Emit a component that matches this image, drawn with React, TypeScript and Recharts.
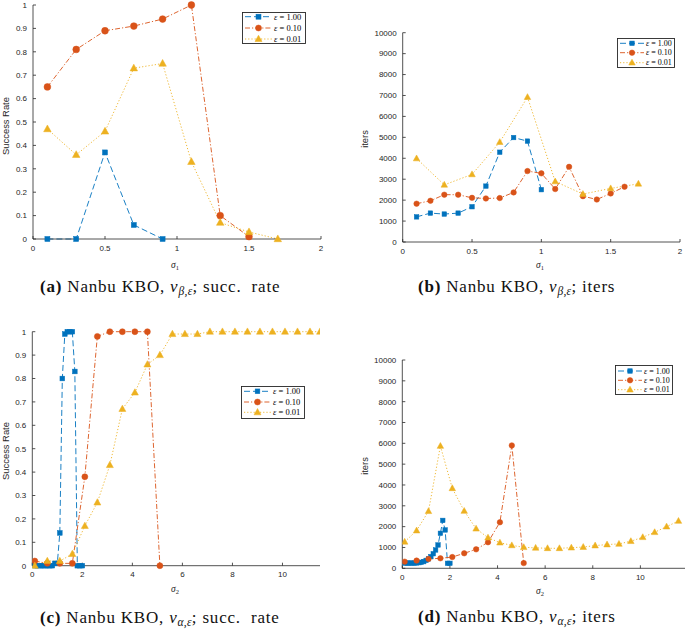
import React from 'react';
import { LineChart, Line, XAxis, YAxis } from 'recharts';

// ---------- series meta ----------
const seriesNames = ['ε = 1.00', 'ε = 0.10', 'ε = 0.01'];
const seriesColors = ['#0072BD', '#D95319', '#EDB120'];
const seriesDashes = ['6 3', '5 2 1.2 2', '1.2 2'];
const seriesMarkers = ['square', 'circle', 'triangle'];

// ---------- tick labels ----------
const rateTicks = [0, 0.1, 0.2, 0.3, 0.4, 0.5, 0.6, 0.7, 0.8, 0.9, 1];
const itersTicks = [0, 1000, 2000, 3000, 4000, 5000, 6000, 7000, 8000, 9000, 10000];
const sigma1Ticks = [0, 0.5, 1, 1.5, 2];
const sigma2Ticks = [0, 2, 4, 6, 8, 10];

// ---------- (a) Nanbu KBO, v_beta; success rate ----------
const aSigmaEps100 = [0.1, 0.3, 0.5, 0.7, 0.9];
const aRateEps100 = [0, 0, 0.37, 0.06, 0];
const aSigmaEps010 = [0.1, 0.3, 0.5, 0.7, 0.9, 1.1, 1.3, 1.5];
const aRateEps010 = [0.65, 0.81, 0.89, 0.91, 0.94, 1.0, 0.1, 0.01];
const aSigmaEps001 = [0.1, 0.3, 0.5, 0.7, 0.9, 1.1, 1.3, 1.5, 1.7];
const aRateEps001 = [0.47, 0.36, 0.46, 0.73, 0.75, 0.33, 0.07, 0.03, 0];

// ---------- (b) Nanbu KBO, v_beta; iters ----------
const bSigmaEps100 = [0.1, 0.2, 0.3, 0.4, 0.5, 0.6, 0.7, 0.8, 0.9, 1.0];
const bItersEps100 = [1200, 1380, 1335, 1380, 1685, 2670, 4290, 4990, 4820, 2500];
const bSigmaEps010 = [0.1, 0.2, 0.3, 0.4, 0.5, 0.6, 0.7, 0.8, 0.9, 1.0, 1.1, 1.2, 1.3, 1.4, 1.5, 1.6];
const bItersEps010 = [1830, 1970, 2260, 2260, 2110, 2080, 2100, 2370, 3390, 3280, 2530, 3590, 2190, 2030, 2320, 2640];
const bSigmaEps001 = [0.1, 0.3, 0.5, 0.7, 0.9, 1.1, 1.3, 1.5, 1.7];
const bItersEps001 = [3990, 2730, 3230, 4770, 6920, 2890, 2290, 2560, 2780];

// ---------- (c) Nanbu KBO, v_alpha; success rate ----------
const cSigmaEps100 = [0.1, 0.2, 0.3, 0.4, 0.5, 0.6, 0.7, 0.8, 0.9, 1.0, 1.1, 1.2, 1.3, 1.4, 1.5, 1.6, 1.7, 1.8, 1.9, 2.0];
const cRateEps100 = [0, 0, 0, 0, 0, 0, 0, 0, 0.01, 0.01, 0.14, 0.8, 0.99, 1, 1, 1, 0.83, 0, 0, 0];
const cSigmaEps010 = [0.1, 0.6, 1.1, 1.6, 2.1, 2.6, 3.1, 3.6, 4.1, 4.6, 5.1];
const cRateEps010 = [0.02, 0.01, 0.01, 0.01, 0.38, 0.98, 1, 1, 1, 1, 0];
const cSigmaEps001 = [0.1, 0.6, 1.1, 1.6, 2.1, 2.6, 3.1, 3.6, 4.1, 4.6, 5.1, 5.6, 6.1, 6.6, 7.1, 7.6, 8.1, 8.6, 9.1, 9.6, 10.1, 10.6, 11.1, 11.5];
const cRateEps001 = [0, 0.02, 0.02, 0.05, 0.17, 0.27, 0.43, 0.67, 0.74, 0.86, 0.9, 0.99, 0.99, 0.99, 1, 1, 1, 1, 1, 1, 1, 1, 1, 1];

// ---------- (d) Nanbu KBO, v_alpha; iters ----------
const dSigmaEps100 = [0.1, 0.2, 0.3, 0.4, 0.5, 0.6, 0.7, 0.8, 0.9, 1.0, 1.1, 1.2, 1.3, 1.4, 1.5, 1.6, 1.7, 1.8, 1.9, 2.0];
const dItersEps100 = [250, 250, 250, 250, 250, 260, 270, 290, 320, 380, 450, 560, 700, 880, 1120, 1680, 2300, 1840, 240, 240];
const dSigmaEps010 = [0.1, 0.6, 1.1, 1.6, 2.1, 2.6, 3.1, 3.6, 4.1, 4.6, 5.1];
const dItersEps010 = [320, 370, 450, 480, 540, 720, 910, 1250, 2210, 5900, 250];
const dSigmaEps001 = [0.1, 0.6, 1.1, 1.6, 2.1, 2.6, 3.1, 3.6, 4.1, 4.6, 5.1, 5.6, 6.1, 6.6, 7.1, 7.6, 8.1, 8.6, 9.1, 9.6, 10.1, 10.6, 11.1, 11.6];
const dItersEps001 = [1270, 1810, 2740, 5870, 3840, 2750, 1900, 1470, 1230, 1100, 1010, 980, 960, 960, 990, 1020, 1090, 1140, 1170, 1300, 1490, 1730, 2000, 2270];

const toRows = (xs: number[], ys: number[]) => xs.map((x, i) => ({ x, y: ys[i] }));

const AXIS = '#262626';
const SANS = '"Liberation Sans", Arial, Helvetica, sans-serif';
const SERIF = '"Liberation Serif", "Times New Roman", serif';

function marker(kind: string, color: string, size: number, cx: number, cy: number, key: any) {
  if (kind === 'square') {
    return <rect key={key} x={cx - size / 2} y={cy - size / 2} width={size} height={size} fill={color} stroke={color} strokeWidth={0.5} />;
  }
  if (kind === 'circle') {
    return <circle key={key} cx={cx} cy={cy} r={size / 2} fill={color} stroke={color} strokeWidth={0.5} />;
  }
  const h = size * 0.9;
  const pts = `${cx},${cy - h * 0.6} ${cx - size / 2},${cy + h * 0.4} ${cx + size / 2},${cy + h * 0.4}`;
  return <polygon key={key} points={pts} fill={color} stroke={color} strokeWidth={0.5} />;
}

type PanelCfg = {
  left: number; top: number; width: number; height: number;
  margin: { top: number; right: number; left: number; bottom: number };
  yWidth: number; xHeight: number;
  xDomain: [number, number]; xTicks: number[];
  yDomain: [number, number]; yTicks: number[];
  series: { x: number; y: number }[][];
  sizes: number[];
  yFmt: (v: number) => string;
  xFmt: (v: number) => string;
};

function Panel({ cfg }: { cfg: PanelCfg }) {
  return (
    <div style={{ position: 'absolute', left: cfg.left, top: cfg.top }}>
      <LineChart width={cfg.width} height={cfg.height} margin={cfg.margin}>
        <XAxis
          dataKey="x" type="number" domain={cfg.xDomain} ticks={cfg.xTicks} interval={0}
          height={cfg.xHeight} tickSize={-3} tickMargin={9}
          axisLine={{ stroke: AXIS, strokeWidth: 0.8 }} tickLine={{ stroke: AXIS, strokeWidth: 0.8 }}
          tick={{ fill: AXIS, fontSize: 8, fontFamily: SANS }} tickFormatter={cfg.xFmt}
          allowDataOverflow
        />
        <YAxis
          type="number" domain={cfg.yDomain} ticks={cfg.yTicks} interval={0}
          width={cfg.yWidth} tickSize={-3} tickMargin={9}
          axisLine={{ stroke: AXIS, strokeWidth: 0.8 }} tickLine={{ stroke: AXIS, strokeWidth: 0.8 }}
          tick={{ fill: AXIS, fontSize: 8, fontFamily: SANS }} tickFormatter={cfg.yFmt}
        />
        {cfg.series.map((rows, si) => (
          <Line
            key={si}
            data={rows}
            dataKey="y"
            name={seriesNames[si]}
            stroke={seriesColors[si]}
            strokeWidth={0.9}
            strokeDasharray={seriesDashes[si]}
            isAnimationActive={false}
            activeDot={false}
            dot={(p: any) => marker(seriesMarkers[si], seriesColors[si], cfg.sizes[si], p.cx, p.cy, `d${si}-${p.index}`)}
          />
        ))}
      </LineChart>
    </div>
  );
}

function LegendBox({ left, top, width, height, rows, lineX, markX, textX, fontSize, sizes }:
  { left: number; top: number; width: number; height: number; rows: number[]; lineX: [number, number]; markX: number; textX: number; fontSize: number; sizes: number[] }) {
  return (
    <svg style={{ position: 'absolute', left, top }} width={width} height={height}>
      <rect x={0.5} y={0.5} width={width - 1} height={height - 1} fill="#fff" stroke={AXIS} strokeWidth={0.9} />
      {seriesNames.map((name, i) => (
        <g key={i}>
          <line x1={lineX[0]} x2={lineX[1]} y1={rows[i]} y2={rows[i]} stroke={seriesColors[i]} strokeWidth={0.9} strokeDasharray={seriesDashes[i]} />
          {marker(seriesMarkers[i], seriesColors[i], sizes[i], markX, rows[i], 'm' + i)}
          <text x={textX} y={rows[i]} dy="0.33em" fontSize={fontSize} fontFamily={SERIF} fill="#000">
            <tspan fontStyle="italic">ε</tspan>
            {name.slice(1)}
          </text>
        </g>
      ))}
    </svg>
  );
}

function YTitle({ x, y, text }: { x: number; y: number; text: string }) {
  return (
    <div style={{ position: 'absolute', left: x, top: y, transform: 'translate(-50%, -50%) rotate(-90deg)', fontFamily: SANS, fontSize: 9.4, color: AXIS, whiteSpace: 'nowrap', lineHeight: 1 }}>
      {text}
    </div>
  );
}

function XTitle({ x, y, sub }: { x: number; y: number; sub: string }) {
  return (
    <div style={{ position: 'absolute', left: x, top: y, transform: 'translate(-50%, -50%)', fontFamily: SERIF, fontSize: 9.5, color: AXIS, whiteSpace: 'nowrap', lineHeight: 1 }}>
      <span style={{ fontStyle: 'italic' }}>σ</span>
      <span style={{ fontSize: 6.5, verticalAlign: '-2px' }}>{sub}</span>
    </div>
  );
}

function Caption({ x, y, label, greek, tail }: { x: number; y: number; label: string; greek: string; tail: string }) {
  return (
    <div style={{ position: 'absolute', left: x, top: y, transform: 'translateY(-50%)', fontFamily: SERIF, fontSize: 17, color: '#111', whiteSpace: 'nowrap', lineHeight: 1, letterSpacing: 0.8 }}>
      <b>({label})</b>{'\u00a0'}Nanbu KBO, <i>v</i>
      <span style={{ fontSize: 11.5, fontStyle: 'italic', verticalAlign: '-3px', letterSpacing: 0.3 }}>{greek},ε</span>; {tail}
    </div>
  );
}

const fmtRate = (v: number) => String(Number(v.toFixed(1)));
const fmtPlain = (v: number) => String(v);

const panels: PanelCfg[] = [
  {
    left: 0, top: 0, width: 340, height: 270,
    margin: { top: 5, right: 19, left: 0, bottom: 0 }, yWidth: 33, xHeight: 31,
    xDomain: [0, 2], xTicks: sigma1Ticks, yDomain: [0, 1], yTicks: rateTicks,
    series: [toRows(aSigmaEps100, aRateEps100), toRows(aSigmaEps010, aRateEps010), toRows(aSigmaEps001, aRateEps001)],
    sizes: [5, 6.8, 7.5], yFmt: fmtRate, xFmt: fmtPlain,
  },
  {
    left: 340, top: 0, width: 345, height: 270,
    margin: { top: 32.7, right: 5, left: 0, bottom: 0 }, yWidth: 62.7, xHeight: 28,
    xDomain: [0, 2], xTicks: sigma1Ticks, yDomain: [0, 10000], yTicks: itersTicks,
    series: [toRows(bSigmaEps100, bItersEps100), toRows(bSigmaEps010, bItersEps010), toRows(bSigmaEps001, bItersEps001)],
    sizes: [4.5, 5.5, 6.5], yFmt: fmtPlain, xFmt: fmtPlain,
  },
  {
    left: 0, top: 320, width: 340, height: 280,
    margin: { top: 11.7, right: 20, left: 0, bottom: 0 }, yWidth: 32.3, xHeight: 34.3,
    xDomain: [0, 11.5], xTicks: sigma2Ticks, yDomain: [0, 1], yTicks: rateTicks,
    series: [toRows(cSigmaEps100, cRateEps100), toRows(cSigmaEps010, cRateEps010), toRows(cSigmaEps001, cRateEps001)],
    sizes: [4.7, 6, 7], yFmt: fmtRate, xFmt: fmtPlain,
  },
  {
    left: 340, top: 320, width: 348, height: 280,
    margin: { top: 40, right: 0, left: 0, bottom: 0 }, yWidth: 62.3, xHeight: 31.7,
    xDomain: [0, 12], xTicks: sigma2Ticks, yDomain: [0, 10000], yTicks: itersTicks,
    series: [toRows(dSigmaEps100, dItersEps100), toRows(dSigmaEps010, dItersEps010), toRows(dSigmaEps001, dItersEps001)],
    sizes: [4.5, 5.5, 6.5], yFmt: fmtPlain, xFmt: fmtPlain,
  },
];

export default function App() {
  return (
    <div style={{ position: 'absolute', left: 0, top: 0, width: 685, height: 635, overflow: 'hidden', background: '#fff' }}>
      {panels.map((p, i) => <Panel key={i} cfg={p} />)}

      <YTitle x={6} y={126} text="Success Rate" />
      <YTitle x={365} y={139} text="iters" />
      <YTitle x={6} y={451} text="Success Rate" />
      <YTitle x={365} y={466} text="iters" />

      <XTitle x={175} y={266} sub="1" />
      <XTitle x={540} y={266} sub="1" />
      <XTitle x={175} y={590} sub="2" />
      <XTitle x={540} y={592} sub="2" />

      <LegendBox left={242} top={12} width={64} height={32} rows={[4.7, 16, 27]} lineX={[3, 30]} markX={16.5} textX={32} fontSize={8.5} sizes={[5, 6, 7]} />
      <LegendBox left={617} top={38} width={58} height={30} rows={[5.3, 14.7, 24.7]} lineX={[3, 27]} markX={15} textX={29} fontSize={8} sizes={[4.5, 5.5, 6.5]} />
      <LegendBox left={241} top={386} width={64} height={33} rows={[5.3, 16, 26.3]} lineX={[3, 30]} markX={16.5} textX={32} fontSize={8.5} sizes={[4.7, 6, 7]} />
      <LegendBox left={615} top={365} width={58} height={30} rows={[6, 15.3, 24.7]} lineX={[3, 27]} markX={15} textX={29} fontSize={8} sizes={[4.5, 5.5, 6.5]} />

      <Caption x={40} y={288} label="a" greek="β" tail={'succ.\u00a0 rate'} />
      <Caption x={418} y={288} label="b" greek="β" tail="iters" />
      <Caption x={40} y={619} label="c" greek="α" tail={'succ.\u00a0 rate'} />
      <Caption x={418} y={618} label="d" greek="α" tail="iters" />
    </div>
  );
}
